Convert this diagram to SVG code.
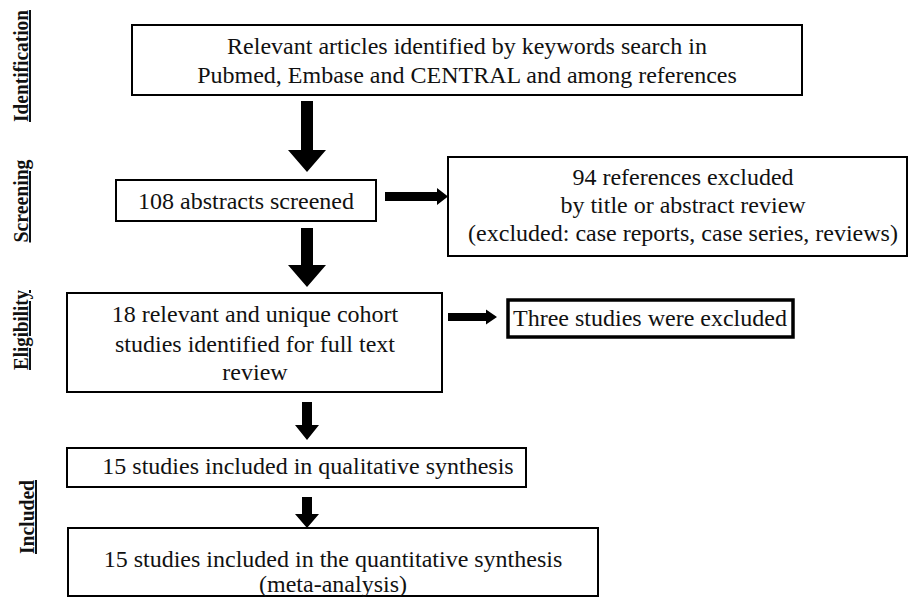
<svg xmlns="http://www.w3.org/2000/svg" width="909" height="598" viewBox="0 0 909 598">
<style>
.box{fill:#fff;stroke:#000;stroke-width:2}
.thick{stroke-width:3.5}
.t{font-family:'Liberation Serif','DejaVu Serif',serif;font-size:24px;fill:#111;text-anchor:middle}
.lab{font-family:'Liberation Serif','DejaVu Serif',serif;font-size:20px;font-weight:bold;fill:#111;text-anchor:middle;text-decoration:underline}
.arr{fill:#000}
</style>
<rect width="909" height="598" fill="#fff"/>
<g id="stage-labels">
<text class="lab" transform="translate(28,66) rotate(-90)" textLength="112" lengthAdjust="spacingAndGlyphs">Identification</text>
<text class="lab" transform="translate(28,201) rotate(-90)" textLength="83" lengthAdjust="spacingAndGlyphs">Screening</text>
<text class="lab" transform="translate(28,330) rotate(-90)" textLength="80" lengthAdjust="spacingAndGlyphs">Eligibility</text>
<text class="lab" transform="translate(34,517) rotate(-90)" textLength="74" lengthAdjust="spacingAndGlyphs">Included</text>
</g>
<g id="connectors">
<polygon class="arr" points="301,101 313,101 313,150 326,150 307,172 288,150 301,150"/>
<polygon class="arr" points="301,228 313,228 313,265 326,265 307,287 288,265 301,265"/>
<polygon class="arr" points="302,402 312,402 312,425 319,425 307,440 295,425 302,425"/>
<polygon class="arr" points="302,497 312,497 312,514 319,514 307,528 295,514 302,514"/>
<polygon class="arr" points="385,192 437,192 437,188 448,196.5 437,205 437,201 385,201"/>
<polygon class="arr" points="448,313 486,313 486,309.5 497,317 486,324.5 486,321 448,321"/>
</g>
<g id="n-identified">
<rect class="box" x="132" y="25" width="670" height="70"/>
<text class="t" x="467" y="54">Relevant articles  identified by keywords search in</text>
<text class="t" x="467" y="83">Pubmed, Embase and CENTRAL  and among references</text>
</g>
<g id="n-screened">
<rect class="box" x="116" y="180" width="260" height="41"/>
<text class="t" x="246" y="209">108 abstracts screened</text>
</g>
<g id="n-excluded-94">
<rect class="box" x="448" y="157" width="459" height="99"/>
<text class="t" x="683" y="185">94 references excluded</text>
<text class="t" x="683" y="213">by title or abstract review</text>
<text class="t" x="683" y="241">(excluded: case reports, case series, reviews)</text>
</g>
<g id="n-fulltext">
<rect class="box" x="67" y="293" width="375" height="99"/>
<text class="t" x="255" y="322">18 relevant and unique cohort</text>
<text class="t" x="255" y="352">studies identified for full text</text>
<text class="t" x="255" y="380">review</text>
</g>
<g id="n-excluded-3">
<rect class="box thick" x="508" y="300" width="285" height="37"/>
<text class="t" x="650" y="326">Three studies were excluded</text>
</g>
<g id="n-qualitative">
<rect class="box" x="67" y="448" width="459" height="39"/>
<text class="t" x="308" y="474">15 studies included in qualitative synthesis</text>
</g>
<g id="n-quantitative">
<rect class="box" x="68" y="528" width="530" height="68"/>
<text class="t" x="333" y="567">15 studies included in the quantitative synthesis</text>
<text class="t" x="333" y="592">(meta-analysis)</text>
</g>
</svg>
